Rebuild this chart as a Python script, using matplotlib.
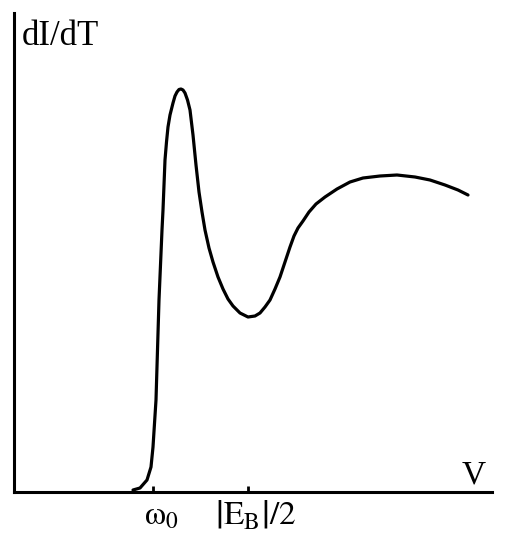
import matplotlib
matplotlib.use("Agg")
import matplotlib.pyplot as plt
from matplotlib.transforms import ScaledTranslation

# Schematic curve (arbitrary units)
voltage = [119, 126, 133, 137, 139, 142, 145, 148, 149, 151, 152.5, 154, 156,
           159, 161, 163, 165, 167, 169, 171, 173.5, 176, 179, 182, 185, 188,
           191, 195, 199, 204, 209, 214, 219, 226, 234, 241, 246, 251, 256,
           261, 266, 271, 276, 280, 284, 289, 295, 302, 311, 323, 336, 349,
           366, 383, 401, 416, 431, 444, 454]
didt = [2, 4, 12, 25, 45, 92, 192, 262, 282, 332, 350, 365, 377,
        389, 396, 400, 402.5, 403, 402, 399, 392, 382, 357, 327, 300, 280,
        262, 244, 230, 215, 203, 193, 186, 179, 175, 176, 179, 185, 192,
        203, 215, 230, 245, 256, 264, 271, 280, 288, 295, 303, 310, 314,
        316, 317, 315, 312, 307, 302, 297]
tick_positions = [139, 234]
tick_labels = [r"$\mathrm{ω}_0$", r"$\left|\mathrm{E_B}\right|/2$"]

plt.rcParams["mathtext.fontset"] = "stix"

fig = plt.figure(figsize=(5.06, 5.50), dpi=100)
ax = fig.add_axes([14 / 506, 58 / 550, 478 / 506, 479 / 550])
ax.plot(voltage, didt, color="black", lw=2.3, solid_joinstyle="round",
        solid_capstyle="round")
ax.set_xlim(0, 478)
ax.set_ylim(0, 479)

for s in ["top", "right"]:
    ax.spines[s].set_visible(False)
for s in ["left", "bottom"]:
    ax.spines[s].set_linewidth(2.2)

ax.set_yticks([])
ax.set_xticks(tick_positions)
ax.set_xticklabels(tick_labels, fontsize=24)
ax.tick_params(axis="x", direction="in", length=4, width=2, pad=5)
offset = ScaledTranslation(8 / 100, 0, fig.dpi_scale_trans)
for lbl in ax.get_xticklabels():
    lbl.set_transform(lbl.get_transform() + offset)

fig.text(22 / 506, (550 - 45) / 550, "dI/dT", family="Liberation Serif",
         fontsize=25, va="baseline", ha="left")
fig.text(462 / 506, (550 - 483) / 550, "V", family="Liberation Serif",
         fontsize=24, va="baseline", ha="left")

fig.savefig("out.png", dpi=100)
